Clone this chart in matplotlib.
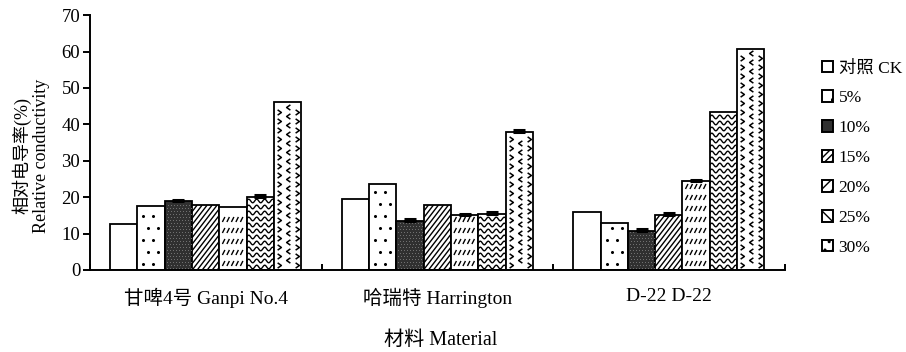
import numpy as np
import matplotlib
matplotlib.use("Agg")
import matplotlib.pyplot as plt
from matplotlib.lines import Line2D
from matplotlib.patches import Patch
from matplotlib.collections import LineCollection
from matplotlib.transforms import IdentityTransform

plt.rcParams['font.family'] = ['Liberation Serif', 'Noto Sans CJK SC']

materials = ["甘啤4号 Ganpi No.4", "哈瑞特 Harrington", "D-22 D-22"]
treatments = ["对照 CK", "5%", "10%", "15%", "20%", "25%", "30%"]

# relative conductivity (%), one value per material
ck = [12.7, 19.4, 16.0]
p5 = [17.6, 23.5, 12.8]
p10 = [18.9, 13.5, 10.8]
p15 = [17.8, 17.9, 15.2]
p20 = [17.3, 15.1, 24.4]
p25 = [20.1, 15.4, 43.5]
p30 = [46.2, 37.9, 60.6]

# upper error bars
err_ck = [0.0, 0.0, 0.0]
err_p5 = [0.0, 0.0, 0.0]
err_p10 = [0.3, 0.4, 0.5]
err_p15 = [0.0, 0.0, 0.4]
err_p20 = [0.0, 0.3, 0.4]
err_p25 = [0.5, 0.4, 0.0]
err_p30 = [0.0, 0.5, 0.0]

series = [ck, p5, p10, p15, p20, p25, p30]
errors = [err_ck, err_p5, err_p10, err_p15, err_p20, err_p25, err_p30]

fig = plt.figure(figsize=(9.06, 3.52), dpi=100)
ax = fig.add_axes([0.0993, 0.233, 0.7667, 0.724])

x = np.arange(len(materials))
w = 0.118
ax.set_xlim(-0.5, 2.5)
ax.set_ylim(0, 70)

facecolors = ['white', 'white', '#303030', 'white', 'white', 'white', 'white']
bars = []
for i, (vals, errs) in enumerate(zip(series, errors)):
    pos = x + (i - 3) * w
    b = ax.bar(pos, vals, width=w, color=facecolors[i], edgecolor='black',
               linewidth=1.3, zorder=2)
    bars.append(b)
    yerr = np.array([np.zeros(3), errs])
    mask = np.array(errs) > 0
    if mask.any():
        ax.errorbar(pos[mask], np.array(vals)[mask], yerr=yerr[:, mask],
                    fmt='none', ecolor='black', elinewidth=1.0,
                    capsize=4, capthick=2.2, zorder=4)


def px_box(bar):
    (x0, y0), (x1, y1) = ax.transData.transform(
        [(bar.get_x(), bar.get_y()),
         (bar.get_x() + bar.get_width(), bar.get_y() + bar.get_height())])
    return x0, y0, x1, y1


# texture artists live in pixel space and are clipped to their bar;
# the clip is set after add_artist, which would otherwise reset it
def add_segs(bar, segs, lw=1.0):
    lc = LineCollection(segs, colors='black', linewidths=lw,
                        transform=IdentityTransform(), zorder=3)
    ax.add_artist(lc)
    lc.set_clip_path(bar)


def add_marks(bar, xs, ys, marker, ms, mew=1.0, filled=True, color='black'):
    ln = Line2D(xs, ys, ls='none', marker=marker, ms=ms, mew=mew,
                color=color, mfc=color if filled else 'none',
                transform=IdentityTransform(), zorder=3)
    ax.add_artist(ln)
    ln.set_clip_path(bar)


def tex_dots(bar):
    x0, y0, x1, y1 = px_box(bar)
    xs, ys = [], []
    for j, yy in enumerate(np.arange(y0 + 6, y1 - 3, 12)):
        off = 5 if j % 2 else 0
        for xx in np.arange(x0 + 6 + off, x1 - 3, 10):
            xs.append(xx)
            ys.append(yy)
    add_marks(bar, xs, ys, 'o', 1.2)


def tex_speckle(bar):
    x0, y0, x1, y1 = px_box(bar)
    xs, ys = [], []
    for j, yy in enumerate(np.arange(y0 + 2, y1 - 1, 3)):
        off = 1.5 if j % 2 else 0
        for xx in np.arange(x0 + 2 + off, x1 - 1, 3):
            xs.append(xx)
            ys.append(yy)
    add_marks(bar, xs, ys, 's', 0.6, mew=0, color='#777777')


def tex_diag(bar, step=5.0, slope=1.3):
    x0, y0, x1, y1 = px_box(bar)
    h = y1 - y0
    segs = [[(xx, y0), (xx + h / slope, y1)]
            for xx in np.arange(x0 - h / slope, x1, step)]
    add_segs(bar, segs, 1.0)


def tex_dash(bar):
    x0, y0, x1, y1 = px_box(bar)
    segs = []
    for yy in np.arange(y0 + 4, y1 - 4, 11):
        for xx in np.arange(x0 + 3, x1 - 2, 4.5):
            segs.append([(xx, yy), (xx + 2.5, yy + 5)])
    add_segs(bar, segs, 1.0)


def tex_wave(bar):
    x0, y0, x1, y1 = px_box(bar)
    xs = np.arange(x0 - 2, x1 + 2, 0.5)
    segs = [np.column_stack([xs, yy + 1.8 * np.sin(2 * np.pi * (xs - x0) / 8)])
            for yy in np.arange(y0 + 3, y1 - 1, 6)]
    add_segs(bar, segs, 1.0)


right_chev = [(-0.5, 0.7), (0.5, 0.0), (-0.5, -0.7)]
left_chev = [(0.5, 0.7), (-0.5, 0.0), (0.5, -0.7)]


def tex_chevron(bar):
    x0, y0, x1, y1 = px_box(bar)
    for k, xx in enumerate(np.arange(x0 + 5, x1 - 2, 9)):
        off = 4.5 if k % 2 else 0
        ys = np.arange(y0 + 5 + off, y1 - 3, 9)
        add_marks(bar, np.full(len(ys), xx), ys,
                  right_chev if k % 2 == 0 else left_chev, 3.8, 1.1,
                  filled=False)


textures = [None, tex_dots, tex_speckle, tex_diag, tex_dash, tex_wave, tex_chevron]
for b, tex in zip(bars, textures):
    if tex is None:
        continue
    for rect in b:
        tex(rect)

# axes styling
for s in ['top', 'right']:
    ax.spines[s].set_visible(False)
for s in ['left', 'bottom']:
    ax.spines[s].set_linewidth(1.4)

ax.set_yticks(np.arange(0, 71, 10))
ax.tick_params(axis='y', direction='out', length=5, width=1.4,
               labelsize=13.5, pad=2)
ax.set_xticks([-0.5, 0.5, 1.5, 2.5])
ax.set_xticklabels([])
ax.tick_params(axis='x', which='major', direction='in', length=4, width=1.4)
ax.set_xticks(x, minor=True)
ax.set_xticklabels(materials, minor=True)
ax.tick_params(axis='x', which='minor', length=0, labelsize=14, pad=13)

fig.text(31 / 906, 1 - 156 / 352, "相对电导率(%)\nRelative conductivity",
         rotation=90, ha='center', va='center', fontsize=13,
         linespacing=1.1)
fig.text(441 / 906, 1 - 340 / 352, "材料 Material", ha='center', va='center',
         fontsize=14.5)

handles = [
    Patch(facecolor='white', edgecolor='black', linewidth=1.4),
    Patch(facecolor='white', edgecolor='black', linewidth=1.4, hatch='.'),
    Patch(facecolor='#303030', edgecolor='black', linewidth=1.4),
    Patch(facecolor='white', edgecolor='black', linewidth=1.4, hatch='/////'),
    Patch(facecolor='white', edgecolor='black', linewidth=1.4, hatch='///'),
    Patch(facecolor='white', edgecolor='black', linewidth=1.4, hatch='\\\\\\'),
    Patch(facecolor='white', edgecolor='black', linewidth=1.4, hatch='..'),
]
fig.legend(handles, treatments, loc='upper left',
           bbox_to_anchor=(810 / 906, 1 - 48 / 352), frameon=False,
           fontsize=12.5, handlelength=0.65, handleheight=0.65,
           handletextpad=0.3, labelspacing=0.8, borderpad=0.2)

fig.savefig("out.png", dpi=100)
